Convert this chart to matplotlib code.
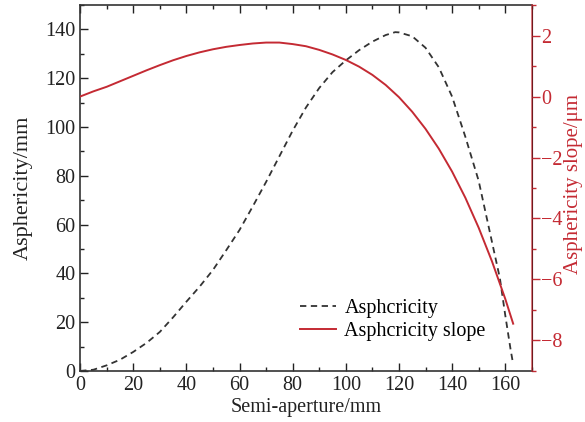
import matplotlib
matplotlib.use('Agg')
import matplotlib.pyplot as plt
from matplotlib.ticker import MultipleLocator

plt.rcParams['font.family'] = ['Liberation Serif', 'DejaVu Serif']

# semi-aperture (mm) and readings
aperture = [0, 5, 10, 15, 20, 25, 30, 35, 40, 45, 50, 55, 60, 65, 70, 75,
            80, 85, 90, 95, 100, 105, 110, 115, 118.6, 120, 125, 130, 135,
            140, 145, 150, 155, 158, 160, 162, 162.8]
asphericity = [0, 0.5, 2.3, 4.6, 7.8, 11.5, 16, 22, 28.4, 34.6, 41.4, 49.5,
               57.8, 67.5, 77.5, 88, 98.5, 108, 116, 122.5, 127.3, 131.5,
               135, 137.7, 138.9, 138.8, 137.2, 132.5, 124.5, 112.5, 96, 78,
               53, 38, 23, 9, 4]

slope_x = [0, 5, 10, 15, 20, 25, 30, 35, 40, 45, 50, 55, 60, 65, 70, 75,
           80, 85, 90, 95, 100, 105, 110, 115, 120, 125, 130, 135, 140, 145,
           150, 155, 160, 163]
slope = [0, 0.17, 0.32, 0.5, 0.68, 0.86, 1.03, 1.19, 1.33, 1.45, 1.55, 1.63,
         1.69, 1.74, 1.77, 1.77, 1.72, 1.65, 1.53, 1.38, 1.2, 0.98, 0.71,
         0.38, -0.02, -0.5, -1.06, -1.71, -2.46, -3.32, -4.3, -5.4, -6.63,
         -7.45]

red = '#c42a33'

fig = plt.figure(figsize=(5.85, 4.22), dpi=100)
ax = fig.add_axes([0.137, 0.121, 0.772, 0.867])
ax2 = ax.twinx()

l1, = ax.plot(aperture, asphericity, color='#333333', lw=1.3,
              dashes=(3.5, 2.5), label='Asphcricity')
l2, = ax2.plot(slope_x, slope, color=red, lw=1.4, label='Asphcricity slope')

ax.set_xlim(0, 170)
ax.set_ylim(0, 150)
ax2.set_ylim(-9, 3)

ax.xaxis.set_major_locator(MultipleLocator(20))
ax.xaxis.set_minor_locator(MultipleLocator(10))
ax.yaxis.set_major_locator(MultipleLocator(20))
ax.yaxis.set_minor_locator(MultipleLocator(10))
ax2.yaxis.set_major_locator(MultipleLocator(2))
ax2.yaxis.set_minor_locator(MultipleLocator(1))

fs = 14.5
ax.tick_params(which='both', direction='in', top=True, right=False,
               labelsize=fs, colors='#222222')
ax.tick_params(which='major', length=6, width=1)
ax.tick_params(which='minor', length=3, width=1)
ax2.tick_params(which='both', direction='out', colors=red, labelsize=fs,
                pad=1)
ax2.tick_params(which='major', length=6, width=1)
ax2.tick_params(which='minor', length=3, width=1)

for s in ['left', 'top', 'bottom']:
    ax.spines[s].set_color('#333333')
    ax.spines[s].set_linewidth(1.2)
ax2.spines['right'].set_color(red)
ax2.spines['right'].set_alpha(0.7)
ax2.spines['right'].set_linewidth(1.2)
for s in ['left', 'top', 'bottom']:
    ax2.spines[s].set_visible(False)

ax.set_xlabel('Semi-aperture/mm', fontsize=fs, color='#222222', labelpad=2)
ax.set_ylabel('Asphericity/mm', fontsize=16, color='#222222')
ax.yaxis.set_label_coords(-0.104, 0.5)
ax2.set_ylabel('Asphericity slope/\u03bcm', fontsize=15, color=red)
ax2.yaxis.set_label_coords(1.071, 0.51)

fig.legend(handles=[l1, l2], loc='upper left',
           bbox_to_anchor=(0.489, 0.325), frameon=False, fontsize=fs,
           handlelength=1.8, handletextpad=0.4, labelspacing=0.2,
           borderpad=0.2)

fig.savefig('out.png', dpi=100)
